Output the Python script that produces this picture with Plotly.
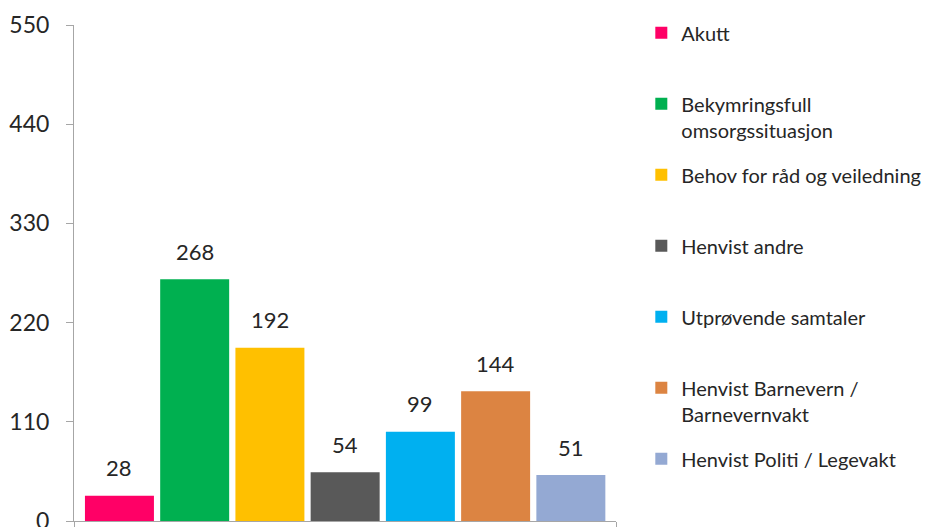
import plotly.graph_objects as go

# ---- data ----
categories = [
    "Akutt",
    "Bekymringsfull<br>omsorgssituasjon",
    "Behov for råd og veiledning",
    "Henvist andre",
    "Utprøvende samtaler",
    "Henvist Barnevern /<br>Barnevernvakt",
    "Henvist Politi / Legevakt",
]
values = [28, 268, 192, 54, 99, 144, 51]
colors = ["#FF0066", "#00B050", "#FFC000", "#595959", "#00B0F0", "#DC8442", "#94A9D3"]
y_ticks = [0, 110, 220, 330, 440, 550]

FONT = "Lato"
TXT = "#262626"
AX = "#A6A6A6"

x_lo, x_hi = -0.604, 6.6

fig = go.Figure()
n = len(categories)
for i, (name, v, c) in enumerate(zip(categories, values, colors)):
    label = name if ("<br>" in name or i == n - 1) else name + "<br> "
    fig.add_trace(go.Bar(
        x=[i], y=[v], name=label, legendgroup=f"g{i}",
        marker=dict(color=c, line=dict(width=0)),
        width=0.917, hoverinfo="skip",
    ))
    fig.add_annotation(
        x=i, y=v, text=str(v), showarrow=False, yanchor="middle", yshift=28,
        font=dict(family=FONT, size=22, color=TXT),
    )

fig.update_layout(
    width=935, height=527,
    margin=dict(l=66, r=327.3, t=16.7, b=14, pad=0, autoexpand=False),
    plot_bgcolor="white", paper_bgcolor="white",
    barmode="overlay",
    showlegend=True,
    legend=dict(
        x=1.0467, xanchor="left", y=1.0236, yanchor="top",
        font=dict(family=FONT, size=20, color=TXT),
        valign="top", tracegroupgap=16, itemclick=False,
        bgcolor="rgba(0,0,0,0)", maxheight=1000,
    ),
    font=dict(family=FONT, color=TXT),
)
fig.update_xaxes(
    range=[x_lo, x_hi], showgrid=False, zeroline=False,
    showline=True, linecolor=AX, linewidth=1,
    tickmode="array", tickvals=[x_lo, x_hi], ticktext=["", ""],
    ticks="outside", ticklen=7, tickcolor=AX,
)
fig.update_yaxes(
    range=[0, 550], showgrid=False, zeroline=False,
    showline=True, linecolor=AX, linewidth=1,
    tickmode="array", tickvals=y_ticks, ticktext=[str(t) for t in y_ticks],
    ticks="outside", ticklen=7, tickcolor=AX,
    tickfont=dict(family=FONT, size=23, color=TXT),
    ticklabelstandoff=12,
)
fig.write_html("out.html")
